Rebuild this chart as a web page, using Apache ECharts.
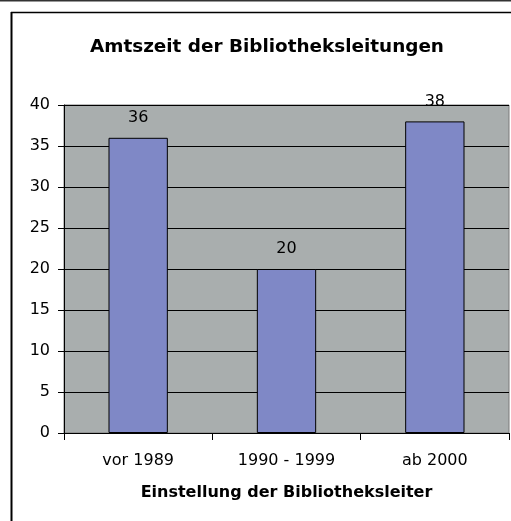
<!DOCTYPE html>
<html>
<head>
<meta charset="utf-8">
<script src="https://cdn.jsdelivr.net/npm/echarts@6/dist/echarts.min.js"></script>
<style>html,body{margin:0;padding:0;background:#fff}#c{width:511px;height:521px}</style>
</head>
<body>
<div id="c"></div>
<script>
const categories = ['vor 1989', '1990 - 1999', 'ab 2000'];
const values = [36, 20, 38];
const titleText = 'Amtszeit der Bibliotheksleitungen';
const xName = 'Einstellung der Bibliotheksleiter';

const chart = echarts.init(document.getElementById('c'), null, {renderer: 'canvas'});
const font = 'DejaVu Sans, sans-serif';
chart.setOption({
  animation: false,
  backgroundColor: '#ffffff',
  textStyle: {fontFamily: font},
  title: {
    text: titleText,
    left: 85, top: 33,
    textStyle: {fontFamily: font, fontSize: 18.4, fontWeight: 'bold', color: '#000'}
  },
  graphic: [
    {type: 'line', shape: {x1: 0, y1: 0.5, x2: 511, y2: 0.5}, style: {stroke: '#333', lineWidth: 2}},
    {type: 'line', shape: {x1: 11, y1: 12.5, x2: 511, y2: 12.5}, style: {stroke: '#000', lineWidth: 1.5}},
    {type: 'line', shape: {x1: 11.5, y1: 12, x2: 11.5, y2: 521}, style: {stroke: '#000', lineWidth: 2}}
  ],
  grid: {
    left: 64, right: 2, top: 105, bottom: 88,
    show: true, backgroundColor: '#a9aeae', borderColor: '#7a7a7a', borderWidth: 1
  },
  xAxis: {
    type: 'category',
    data: categories,
    name: xName,
    nameLocation: 'middle',
    nameGap: 52,
    nameTextStyle: {fontFamily: font, fontSize: 16, fontWeight: 'bold', color: '#000'},
    axisLine: {show: true, lineStyle: {color: '#000', width: 1}},
    axisTick: {show: true, length: 7, alignWithLabel: false, lineStyle: {color: '#000'}},
    axisLabel: {fontFamily: font, fontSize: 16, color: '#000', margin: 20},
    splitLine: {show: false}
  },
  yAxis: {
    type: 'value',
    min: 0, max: 40, interval: 5,
    axisLine: {show: true, lineStyle: {color: '#000', width: 1}},
    axisTick: {show: true, length: 6, lineStyle: {color: '#000'}},
    axisLabel: {fontFamily: font, fontSize: 16, color: '#000', margin: 14},
    splitLine: {show: true, lineStyle: {color: '#000', width: 1}}
  },
  series: [{
    type: 'bar',
    data: values,
    barWidth: '40%',
    itemStyle: {color: '#7f88c6', borderColor: '#000', borderWidth: 1},
    label: {show: true, position: 'top', distance: 12, fontFamily: font, fontSize: 16, color: '#000'}
  }]
});
</script>
</body>
</html>
